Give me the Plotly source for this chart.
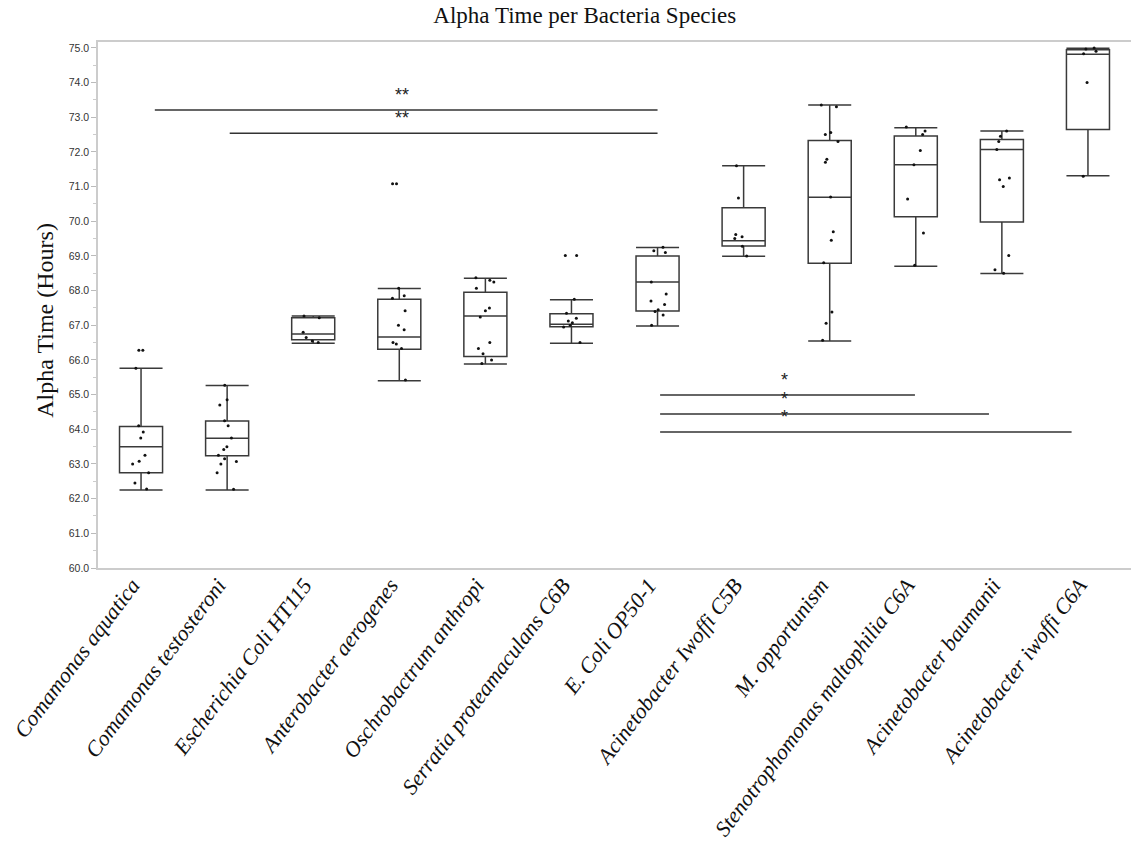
import plotly.graph_objects as go

species = ["Comamonas aquatica", "Comamonas testosteroni", "Escherichia Coli HT115",
           "Anterobacter aerogenes", "Oschrobactrum anthropi", "Serratia proteamaculans C6B",
           "E. Coli OP50-1", "Acinetobacter Iwoffi C5B", "M. opportunism",
           "Stenotrophomonas maltophilia C6A", "Acinetobacter baumanii", "Acinetobacter iwoffi C6A"]

q1 = [62.75, 63.24, 66.58, 66.31, 66.10, 66.96, 67.41, 69.29, 68.79, 70.13, 69.98, 72.65]
median = [63.50, 63.74, 66.75, 66.66, 67.27, 67.03, 68.25, 69.44, 70.69, 71.63, 72.07, 74.82]
q3 = [64.08, 64.24, 67.22, 67.75, 67.95, 67.33, 69.00, 70.39, 72.33, 72.46, 72.36, 74.95]
lower_whisker = [62.25, 62.25, 66.48, 65.40, 65.88, 66.48, 66.98, 68.99, 66.55, 68.70, 68.49, 71.31]
upper_whisker = [65.76, 65.26, 67.27, 68.06, 68.36, 67.74, 69.24, 71.60, 73.35, 72.70, 72.60, 74.99]

points = [
    [66.28, 66.28, 65.76, 64.10, 63.92, 63.75, 63.25, 63.08, 63.00, 62.75, 62.45, 62.28],
    [65.27, 64.85, 64.70, 64.25, 64.10, 63.75, 63.50, 63.42, 63.25, 63.15, 63.07, 63.00, 62.75, 62.27],
    [67.27, 67.22, 66.80, 66.65, 66.55, 66.50],
    [71.08, 71.08, 68.07, 67.85, 67.78, 67.42, 67.00, 66.87, 66.50, 66.46, 66.33, 65.42],
    [68.37, 68.30, 68.25, 68.07, 67.50, 67.42, 67.24, 66.50, 66.33, 66.18, 66.00, 65.90],
    [69.01, 69.01, 67.75, 67.35, 67.20, 67.12, 67.07, 67.00, 66.95, 66.50],
    [69.25, 69.15, 69.10, 68.25, 67.90, 67.70, 67.60, 67.45, 67.40, 67.30, 67.00],
    [71.60, 70.67, 69.62, 69.55, 69.50, 69.28, 69.00],
    [73.35, 73.30, 72.56, 72.50, 72.30, 71.79, 71.70, 70.70, 69.70, 69.45, 68.80, 67.38, 67.06, 66.57],
    [72.72, 72.60, 72.50, 72.04, 71.63, 70.64, 69.66, 68.73],
    [72.60, 72.45, 72.30, 72.07, 71.25, 71.20, 71.00, 69.01, 68.60, 68.50],
    [75.00, 74.97, 74.90, 74.83, 74.00, 71.30],
]

# significance brackets: (start category index, end category index, y value, label)
sig_start = [0.16, 1.03, 6.03, 6.03, 6.03]
sig_end = [6.0, 6.0, 8.99, 9.85, 10.81]
sig_y = [73.21, 72.54, 64.99, 64.44, 63.92]
sig_label = ["**", "**", "*", "*", "*"]
sig_label_x = [3.03, 3.03, 7.48, 7.48, 7.48]

fig = go.Figure()

fig.add_trace(go.Box(
    x=species, q1=q1, median=median, q3=q3,
    lowerfence=lower_whisker, upperfence=upper_whisker,
    width=0.5, whiskerwidth=1,
    line=dict(color="#3a3a3a", width=1.5), fillcolor="rgba(255,255,255,0)",
    boxpoints=False, showlegend=False, name="box"))

px_x = []
px_y = []
for s, vals in zip(species, points):
    px_x += [s] * len(vals)
    px_y += vals

fig.add_trace(go.Box(
    x=px_x, y=px_y, width=0.5, boxpoints="all", jitter=0.5, pointpos=0,
    line=dict(color="rgba(0,0,0,0)", width=0), fillcolor="rgba(0,0,0,0)",
    marker=dict(color="#111111", size=3), showlegend=False, name="pts"))

for xs, xe, yv, lab, lx in zip(sig_start, sig_end, sig_y, sig_label, sig_label_x):
    fig.add_shape(type="line", xref="x", yref="y", x0=xs, x1=xe, y0=yv, y1=yv,
                  line=dict(color="#333333", width=1.5))
    fig.add_annotation(x=lx, y=yv, xref="x", yref="y", text=lab, showarrow=False,
                       yshift=15, font=dict(family="Liberation Sans", size=18, color="#222222"))

# y-axis title as annotation (positioned like the reference)
fig.add_annotation(x=0, y=0.47, xref="paper", yref="paper", xshift=-53,
                   text="Alpha Time (Hours)", textangle=-90, showarrow=False,
                   xanchor="center", yanchor="middle",
                   font=dict(family="Liberation Serif", size=24, color="#111"))

fig.update_layout(
    width=1131, height=855,
    margin=dict(l=98, r=0, t=42, b=287),
    paper_bgcolor="white", plot_bgcolor="white",
    boxmode="overlay",
    title=dict(text="Alpha Time per Bacteria Species", x=0.517, xanchor="center",
               y=0.983, yanchor="middle", xref="container", yref="container",
               font=dict(family="Liberation Serif", size=23, color="#111")),
    xaxis=dict(type="category", range=[-0.5, 11.5], showline=True, linecolor="#cccccc",
               linewidth=1.5, mirror=True, ticks="", tickangle=-53, showgrid=False,
               automargin=False, ticklabelshift=-9, ticklabelstandoff=-6,
               tickfont=dict(family="Liberation Serif", size=22, color="#111", style="italic"),
               categoryorder="array", categoryarray=species),
    yaxis=dict(range=[60, 75.17], dtick=1, tick0=60, tickformat=".1f",
               showline=True, linecolor="#cccccc", linewidth=1.5, ticks="outside",
               ticklen=5, tickcolor="#bbbbbb", showgrid=False, zeroline=False,
               automargin=False,
               minor=dict(dtick=0.5, ticks="outside", ticklen=3, tickcolor="#cccccc"),
               tickfont=dict(family="Liberation Sans", size=10.5, color="#333")),
)

fig.write_html("out.html", config={"displayModeBar": False},
               post_script="document.body.style.margin='0px';")
